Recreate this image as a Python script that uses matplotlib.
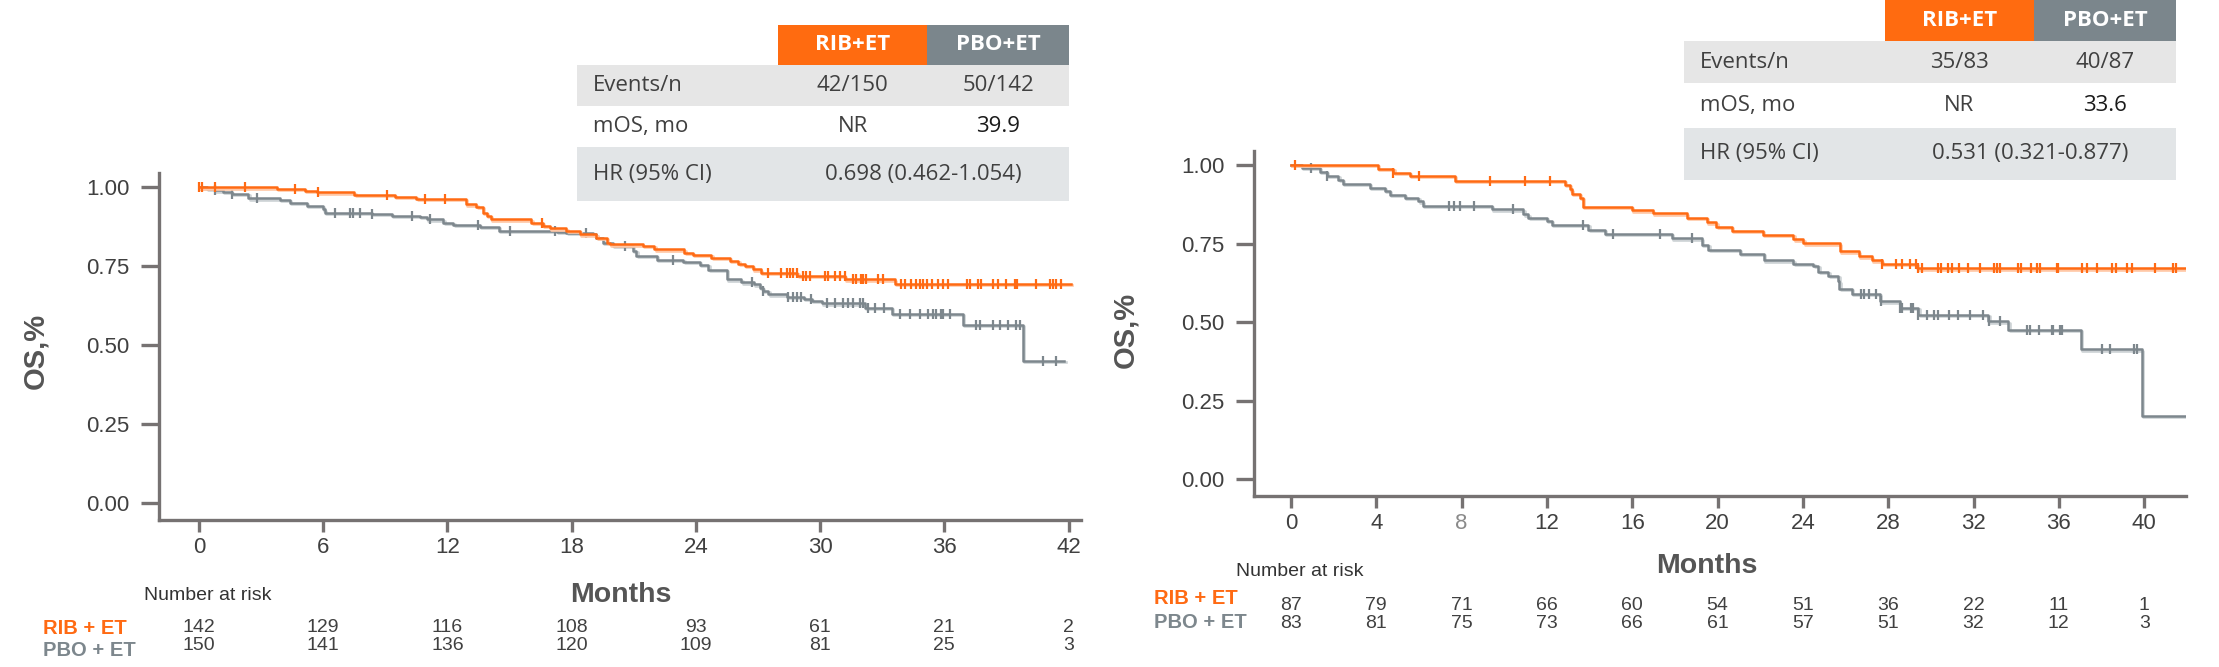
import numpy as np
import matplotlib.pyplot as plt
from matplotlib.patches import Rectangle
from matplotlib import transforms

plt.rcParams['font.family'] = ['Liberation Sans', 'DejaVu Sans']

W, H = 2219, 667

orange = '#ff6a13'
grey = '#7d878d'
axis_col = '#767272'

# ---------------- left panel data ----------------
t_rib_l = [0, 3.75, 5.1, 5.7, 7.5, 9.45, 10.5, 12.9, 13.4, 13.7, 13.9, 14.1, 16.05, 16.6, 16.95,
           17.75, 18.4, 19.2, 19.7, 19.85, 21.45, 22.0, 23.45, 23.85, 24.75, 25.65, 26.05, 26.35,
           26.75, 27.15, 28.9, 31.2, 33.6]
s_rib_l = [1.0, 0.994, 0.988, 0.984, 0.975, 0.970, 0.963, 0.946, 0.938, 0.919, 0.909, 0.898, 0.888,
           0.877, 0.870, 0.861, 0.851, 0.840, 0.824, 0.819, 0.814, 0.803, 0.793, 0.785, 0.777, 0.766,
           0.757, 0.750, 0.740, 0.729, 0.720, 0.708, 0.695]
c_rib_l = [0.0, 0.13, 0.77, 2.22, 4.63, 5.76, 9.06, 10.9, 11.9, 16.55, 27.49, 28.13, 28.38, 28.54,
           28.70, 28.86, 29.18, 29.34, 29.50, 30.23, 30.39, 30.71, 30.95, 31.19, 31.59, 31.75, 31.99,
           32.07, 32.24, 32.80, 33.04, 33.93, 34.09, 34.41, 34.65, 34.81, 34.97, 35.14, 35.38, 35.70,
           35.94, 36.18, 37.07, 37.23, 37.63, 37.79, 38.35, 38.60, 39.00, 39.40, 39.51, 40.45, 41.12,
           41.25, 41.41, 41.65]
end_rib_l = 42.1

t_pbo_l = [0, 0.37, 0.77, 1.17, 1.58, 2.38, 3.91, 4.39, 5.2, 6.0, 6.08, 8.34, 9.3, 10.67, 11.0, 11.8,
           12.28, 13.57, 14.5, 17.27, 17.75, 19.04, 19.2, 19.5, 20.0, 20.97, 21.13, 22.1, 23.4, 24.2,
           24.6, 25.5, 26.2, 26.8, 27.1, 27.25, 27.5, 28.4, 29.2, 29.6, 30.07, 32.16, 33.45, 36.9, 39.8]
s_pbo_l = [1.0, 0.994, 0.990, 0.986, 0.980, 0.965, 0.960, 0.951, 0.941, 0.930, 0.919, 0.916, 0.909,
           0.906, 0.898, 0.888, 0.880, 0.874, 0.861, 0.859, 0.856, 0.851, 0.840, 0.824, 0.814, 0.798,
           0.782, 0.771, 0.763, 0.755, 0.739, 0.708, 0.699, 0.692, 0.681, 0.671, 0.661, 0.653, 0.646,
           0.639, 0.632, 0.618, 0.600, 0.563, 0.449]
c_pbo_l = [0.77, 1.58, 2.78, 6.56, 7.29, 7.45, 7.77, 8.34, 10.27, 11.15, 13.49, 15.0, 17.2, 18.7,
           20.6, 22.90, 26.69, 27.25, 28.46, 28.70, 28.86, 29.10, 29.58, 30.31, 30.71, 31.11, 31.35,
           31.59, 31.92, 32.07, 32.32, 32.64, 33.07, 33.85, 34.33, 34.81, 35.21, 35.46, 35.62, 35.86,
           35.94, 36.26, 37.55, 37.71, 38.35, 38.68, 39.08, 39.48, 39.64, 40.77, 41.41]
end_pbo_l = 41.8

months_l = [0, 6, 12, 18, 24, 30, 36, 42]
risk_rib_l = [142, 129, 116, 108, 93, 61, 21, 2]
risk_pbo_l = [150, 141, 136, 120, 109, 81, 25, 3]

# ---------------- right panel data ----------------
t_rib_r = [0, 4.09, 4.8, 5.58, 7.69, 12.85, 13.08, 13.16, 13.55, 13.7, 15.97, 16.98, 18.55, 19.49,
           19.95, 20.66, 22.14, 23.55, 24.02, 25.74, 26.64, 27.22, 27.69, 29.33]
s_rib_r = [1.0, 0.988, 0.976, 0.965, 0.951, 0.938, 0.923, 0.909, 0.896, 0.867, 0.856, 0.846, 0.831,
           0.818, 0.803, 0.790, 0.778, 0.764, 0.751, 0.725, 0.709, 0.697, 0.685, 0.671]
c_rib_r = [0.19, 4.8, 6.0, 9.33, 10.97, 12.14, 27.69, 28.36, 28.63, 29.02, 29.30, 29.41, 29.57,
           30.35, 30.46, 30.82, 30.97, 31.33, 31.72, 32.30, 32.96, 33.08, 33.24, 34.10, 34.21, 34.68,
           34.96, 35.12, 35.93, 35.98, 37.07, 37.34, 37.77, 38.51, 38.68, 39.18, 39.41, 40.51, 41.37,
           41.48]
end_rib_r = 41.9

t_pbo_r = [0, 0.5, 1.36, 1.67, 2.22, 2.45, 3.7, 4.4, 4.64, 5.35, 5.97, 6.2, 9.41, 10.9, 11.13, 12.0,
           12.22, 13.94, 14.72, 17.85, 19.26, 19.57, 21.05, 22.17, 23.55, 24.49, 24.72, 25.19, 25.66,
           25.71, 26.28, 27.6, 28.55, 29.41, 32.69, 33.63, 37.02, 39.88]
s_pbo_r = [1.0, 0.991, 0.979, 0.965, 0.954, 0.941, 0.928, 0.917, 0.906, 0.896, 0.885, 0.871, 0.859,
           0.843, 0.833, 0.822, 0.809, 0.793, 0.782, 0.767, 0.745, 0.729, 0.718, 0.697, 0.685, 0.679,
           0.661, 0.648, 0.630, 0.605, 0.589, 0.566, 0.545, 0.524, 0.502, 0.475, 0.413, 0.201]
c_pbo_r = [0.92, 1.67, 7.42, 7.64, 7.92, 8.58, 10.42, 13.7, 15.1, 17.3, 18.8, 26.71, 26.86, 27.11,
           27.42, 27.64, 28.55, 28.63, 29.05, 29.18, 29.41, 29.80, 30.15, 30.35, 30.87, 31.29, 31.83,
           32.43, 32.74, 33.24, 34.52, 34.64, 35.07, 35.66, 35.71, 36.05, 36.13, 38.01, 38.40, 39.52,
           39.65]
end_pbo_r = 41.9

months_r = [0, 4, 8, 12, 16, 20, 24, 28, 32, 36, 40]
risk_rib_r = [87, 79, 71, 66, 60, 54, 51, 36, 22, 11, 1]
risk_pbo_r = [83, 81, 75, 73, 66, 61, 57, 51, 32, 12, 3]

# summary tables
tab_rows = ['Events/n', 'mOS, mo', 'HR (95% CI)']
events_l = ['42/150', '50/142']
mos_l = ['NR', '39.9']
hr_l = '0.698 (0.462-1.054)'
events_r = ['35/83', '40/87']
mos_r = ['NR', '33.6']
hr_r = '0.531 (0.321-0.877)'

fig = plt.figure(figsize=(W / 100, H / 100), dpi=100)


def add_ax(x0, y0, x1, y1):
    # pixel box -> figure fraction
    return fig.add_axes([x0 / W, 1 - y1 / H, (x1 - x0) / W, (y1 - y0) / H])


def surv_at(t, times, surv):
    idx = np.searchsorted(times, t, side='right') - 1
    return np.array(surv)[idx]


def km(ax, times, surv, t_end, cens, color, shadow, z):
    tt = list(times) + [t_end]
    ss = list(surv) + [surv[-1]]
    sh = transforms.offset_copy(ax.transData, fig=fig, x=1.3, y=-1.3, units='dots')
    ax.plot(tt, ss, drawstyle='steps-post', color=shadow, lw=1.9, transform=sh, zorder=z - 0.5)
    ax.plot(tt, ss, drawstyle='steps-post', color=color, lw=1.8, zorder=z)
    ax.plot(cens, surv_at(cens, times, surv), ls='none', marker='|', ms=7.5, mew=1.6,
            color=color, zorder=z)


def style(ax, xticks, xlim):
    for s in ['top', 'right']:
        ax.spines[s].set_visible(False)
    for s in ['left', 'bottom']:
        ax.spines[s].set_color(axis_col)
        ax.spines[s].set_linewidth(2.4)
    ax.set_xlim(xlim)
    ax.set_ylim(-0.054, 1.045)
    ax.set_xticks(xticks)
    ax.set_yticks([0, 0.25, 0.5, 0.75, 1.0])
    ax.set_yticklabels(['0.00', '0.25', '0.50', '0.75', '1.00'])
    ax.tick_params(axis='y', length=13, width=2.4, color=axis_col, pad=8.5,
                   labelsize=16, labelcolor='#404040')
    ax.tick_params(axis='x', length=8.6, width=2.4, color=axis_col, pad=3.5,
                   labelsize=16, labelcolor='#404040')
    ax.set_xlabel('Months', fontsize=20.5, fontweight='bold', color='#555555')
    ax.set_ylabel('OS,%', fontsize=21, fontweight='bold', color='#555555')


def box(x0, y0, x1, y1, col):
    fig.add_artist(Rectangle((x0 / W, 1 - y1 / H), (x1 - x0) / W, (y1 - y0) / H,
                             transform=fig.transFigure, color=col, lw=0, zorder=5))


def ftext(x, y, s, **kw):
    fig.text(x / W, 1 - y / H, s, va='center', zorder=6, **kw)


def table(xs, ys, events, mos, hr):
    x0, c1, c2, x1 = xs
    box(c1, ys[0], c2, ys[1], '#ff6b10')
    box(c2, ys[0], x1, ys[1], '#7b868c')
    box(x0, ys[1], x1, ys[2], '#e6e6e6')
    box(x0, ys[3], x1, ys[4], '#e2e5e7')
    tf = dict(family=['Open Sans', 'DejaVu Sans'], fontsize=16)
    m1, m2 = (c1 + c2) / 2, (c2 + x1) / 2
    ftext(m1, (ys[0] + ys[1]) / 2, 'RIB+ET', ha='center', color='white', fontweight='bold', **tf)
    ftext(m2, (ys[0] + ys[1]) / 2, 'PBO+ET', ha='center', color='white', fontweight='bold', **tf)
    for i, lab in enumerate(tab_rows):
        ftext(x0 + 16, (ys[i + 1] + ys[i + 2]) / 2, lab, ha='left', color='#404040', **tf)
    yc = (ys[1] + ys[2]) / 2
    ftext(m1, yc, events[0], ha='center', color='#404040', **tf)
    ftext(m2, yc, events[1], ha='center', color='#404040', **tf)
    yc = (ys[2] + ys[3]) / 2
    ftext(m1, yc, mos[0], ha='center', color='#404040', **tf)
    ftext(m2, yc, mos[1], ha='center', color='#1a1a1a', **tf)
    ftext((c1 + x1) / 2, (ys[3] + ys[4]) / 2, hr, ha='center', color='#404040', **tf)


def risk(ax, months, r1, r2, y1, y2, xlab, ylab1, ylab2, y_nar, x_nar):
    tr = transforms.blended_transform_factory(ax.transData, fig.transFigure)
    for m, a, b in zip(months, r1, r2):
        ax.text(m, 1 - y1 / H, str(a), transform=tr, ha='center', va='center',
                fontsize=14, color='#404040')
        ax.text(m, 1 - y2 / H, str(b), transform=tr, ha='center', va='center',
                fontsize=14, color='#404040')
    ftext(x_nar, y_nar, 'Number at risk', ha='left', fontsize=14, color='#333333')
    ftext(xlab, ylab1, 'RIB + ET', ha='left', fontsize=14.5, fontweight='bold', color=orange)
    ftext(xlab, ylab2, 'PBO + ET', ha='left', fontsize=14.5, fontweight='bold', color=grey)


# ---- left panel ----
ax1 = add_ax(159, 173, 1081, 520)
km(ax1, t_pbo_l, s_pbo_l, end_pbo_l, c_pbo_l, grey, '#cdd2d5', 3)
km(ax1, t_rib_l, s_rib_l, end_rib_l, c_rib_l, orange, '#ffc7a6', 4)
style(ax1, months_l, (-1.93, 42.6))
ax1.xaxis.set_label_coords(0.501, -0.179)
ax1.yaxis.set_label_coords(-0.119, 0.487)
risk(ax1, months_l, risk_rib_l, risk_pbo_l, 627, 646, 43, 629, 651, 596, 144)
table((577, 778, 927, 1069), (25, 65, 106, 147, 201), events_l, mos_l, hr_l)

# ---- right panel ----
ax2 = add_ax(1254, 151, 2186, 496)
km(ax2, t_pbo_r, s_pbo_r, end_pbo_r, c_pbo_r, grey, '#cdd2d5', 3)
km(ax2, t_rib_r, s_rib_r, end_rib_r, c_rib_r, orange, '#ffc7a6', 4)
style(ax2, months_r, (-1.73, 41.96))
ax2.get_xticklabels()[2].set_color('#8a8a8a')
ax2.xaxis.set_label_coords(0.486, -0.165)
ax2.yaxis.set_label_coords(-0.123, 0.481)
risk(ax2, months_r, risk_rib_r, risk_pbo_r, 605, 623, 1154, 598, 623, 572, 1236)
table((1684, 1885, 2034, 2176), (0, 41, 83, 128, 180), events_r, mos_r, hr_r)

plt.savefig('out.png', dpi=100)
